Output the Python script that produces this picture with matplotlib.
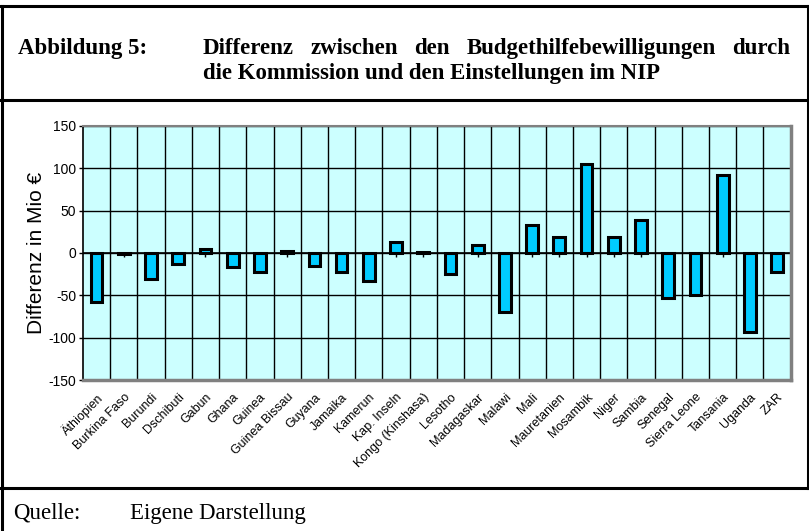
import numpy as np
import matplotlib
matplotlib.use("Agg")
import matplotlib.pyplot as plt
from matplotlib.lines import Line2D

# Daten
laender = ["Äthiopien", "Burkina Faso", "Burundi", "Dschibuti", "Gabun", "Ghana",
           "Guinea", "Guinea Bissau", "Guyana", "Jamaika", "Kamerun", "Kap. Inseln",
           "Kongo (Kinshasa)", "Lesotho", "Madagaskar", "Malawi", "Mali",
           "Mauretanien", "Mosambik", "Niger", "Sambia", "Senegal", "Sierra Leone",
           "Tansania", "Uganda", "ZAR"]
differenz = [-58, -1.5, -31, -13, 5, -17, -22, 2, -15, -22, -33, 12.5,
             1.5, -25, 10, -70, 33, 19, 105, 19, 39, -53, -50, 92, -93, -22]
y_ticks = [-150, -100, -50, 0, 50, 100, 150]

W, H = 809, 531
fig = plt.figure(figsize=(W / 100, H / 100), dpi=100)

# Rahmen (Linien in Pixelkoordinaten -> Figure-Koordinaten)
def hline(y, x0=0, x1=W, lw=2.2):
    fig.add_artist(Line2D([x0 / W, x1 / W], [1 - y / H, 1 - y / H], color="black", lw=lw))

def vline(x, y0, y1, lw=2.2):
    fig.add_artist(Line2D([x / W, x / W], [1 - y0 / H, 1 - y1 / H], color="black", lw=lw))

hline(6)
hline(100)
hline(488)
vline(1.5, 6, 531)
vline(807.5, 6, 488)

# Titel (erste Zeile im Blocksatz)
fs_titel = 16.5
fig.text(18 / W, 1 - 48 / H, "Abbildung 5:", family="Liberation Serif",
         fontweight="bold", fontsize=fs_titel, va="center")
woerter = ["Differenz", "zwischen", "den", "Budgethilfebewilligungen", "durch"]
txts = [fig.text(203 / W, 1 - 48 / H, w, family="Liberation Serif", fontweight="bold",
                 fontsize=fs_titel, va="center") for w in woerter]
fig.canvas.draw()
r = fig.canvas.get_renderer()
breiten = [t.get_window_extent(r).width for t in txts]
luecke = (790 - 203 - sum(breiten)) / (len(woerter) - 1)
x = 203
for t, b in zip(txts, breiten):
    t.set_x(x / W)
    x += b + luecke
fig.text(203 / W, 1 - 74 / H, "die Kommission und den Einstellungen im NIP",
         family="Liberation Serif", fontweight="bold", fontsize=fs_titel, va="center")

# Quelle
fig.text(13 / W, 1 - 513 / H, "Quelle:", family="Liberation Serif", fontsize=16.5, va="center")
fig.text(130 / W, 1 - 513 / H, "Eigene Darstellung", family="Liberation Serif",
         fontsize=16.5, va="center")

# Diagramm
ax = fig.add_axes([83 / W, (H - 380.3) / H, (790.7 - 83) / W, (380.3 - 125.7) / H])
ax.set_facecolor("#CCFFFF")
pos = np.arange(len(laender))
ax.bar(pos, differenz, width=0.43, color="#00CCFF", edgecolor="black", linewidth=2.2, zorder=3)

ax.set_xlim(-0.5, len(laender) - 0.5)
ax.set_ylim(-150, 150)
ax.set_yticks(y_ticks)
ax.set_yticklabels([str(v) for v in y_ticks], family="Liberation Sans", fontsize=10)
for v in y_ticks:
    ax.axhline(v, color="black", lw=1, zorder=1)
for i in range(1, len(laender)):
    ax.axvline(i - 0.5, color="black", lw=1, zorder=1)

# Kategorienachse bei 0 mit kleinen Teilstrichen
ax.axhline(0, color="black", lw=1.2, zorder=2)
ax.plot(pos, np.zeros(len(pos)), linestyle="none", marker=3, markersize=3,
        color="black", zorder=2)

ax.set_xticks(pos)
ax.set_xticklabels(laender, rotation=45, ha="right", rotation_mode="anchor",
                   family="Liberation Sans", fontsize=9)
ax.tick_params(axis="x", length=0, pad=8)
ax.tick_params(axis="y", length=3, width=1, pad=2, direction="out")
ax.set_ylabel("Differenz in Mio €", family="Liberation Sans", fontsize=15, labelpad=2)

ax.spines["left"].set_color("black")
ax.spines["left"].set_linewidth(1.2)
ax.spines["top"].set_color("#808080")
ax.spines["top"].set_linewidth(1.5)
ax.spines["right"].set_color("#808080")
ax.spines["right"].set_linewidth(2.5)
ax.spines["bottom"].set_color("#808080")
ax.spines["bottom"].set_linewidth(2.5)

fig.savefig("out.png", dpi=100)
